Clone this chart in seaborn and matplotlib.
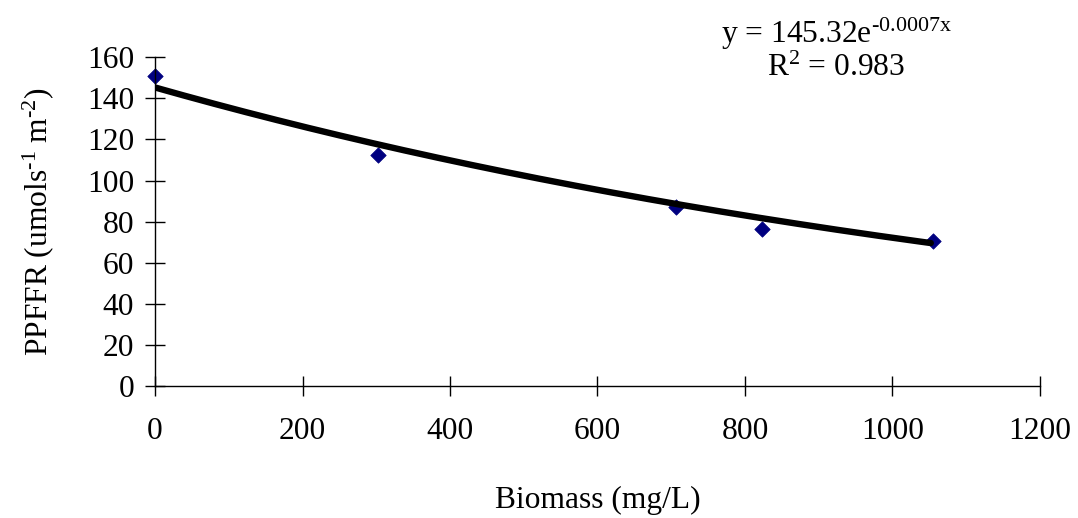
import numpy as np
import pandas as pd
import seaborn as sns
import matplotlib
matplotlib.use("Agg")
import matplotlib.pyplot as plt

# Measured biomass and PPFFR values
biomass = [0, 302, 707, 823, 1055]
ppffr = [151, 112.5, 87.2, 76.3, 70.6]

# Exponential trendline coefficients (y = a * exp(b * x))
fit_a = 145.32
fit_b = -0.0007
r_squared = 0.983

x_ticks = [0, 200, 400, 600, 800, 1000, 1200]
y_ticks = [0, 20, 40, 60, 80, 100, 120, 140, 160]

FS = 22.7
HY = "\u2010"  # plain hyphen inside superscripts

sns.set_theme(style="white")
plt.rcParams["font.family"] = ["Liberation Serif", "DejaVu Serif"]
plt.rcParams["mathtext.fontset"] = "custom"
plt.rcParams["mathtext.rm"] = "Liberation Serif"
plt.rcParams["mathtext.it"] = "Liberation Serif"
plt.rcParams["mathtext.default"] = "regular"
plt.rcParams["text.color"] = "black"
plt.rcParams["axes.labelcolor"] = "black"
plt.rcParams["xtick.color"] = "black"
plt.rcParams["ytick.color"] = "black"

points = pd.DataFrame({"Biomass": biomass, "PPFFR": ppffr})
curve_x = np.linspace(0, max(biomass) - 3, 300)
curve = pd.DataFrame({"Biomass": curve_x, "PPFFR": fit_a * np.exp(fit_b * curve_x)})

fig = plt.figure(figsize=(10.78, 5.18), dpi=100)
ax = fig.add_axes([0.1438, 0.2548, 0.8209, 0.6346])

sns.lineplot(data=curve, x="Biomass", y="PPFFR", ax=ax, color="black",
             linewidth=4.6, solid_capstyle="round", zorder=3)
sns.scatterplot(data=points, x="Biomass", y="PPFFR", ax=ax, marker="D",
                s=62, color="#000080", edgecolor="#000080", linewidth=0.5,
                zorder=2, clip_on=False)

ax.set_xlim(0, 1200)
ax.set_ylim(0, 160)
ax.set_xticks(x_ticks)
ax.set_yticks(y_ticks)
ax.tick_params(axis="both", which="major", direction="inout", length=14,
               width=1, labelsize=FS, bottom=True, left=True)
ax.tick_params(axis="x", pad=15)
ax.tick_params(axis="y", pad=8)

for side in ("top", "right"):
    ax.spines[side].set_visible(False)
for side in ("left", "bottom"):
    ax.spines[side].set_color("black")
    ax.spines[side].set_linewidth(1)

ax.set_xlabel("Biomass (mg/L)", fontsize=FS)
ax.set_ylabel(f"PPFFR (umols$^{{{HY}1}}$ m$^{{{HY}2}}$)", fontsize=FS)
ax.xaxis.set_label_coords(0.5, -0.305)
ax.yaxis.set_label_coords(-0.112, 0.5)

fig.text(0.7755, 0.934, f"y = 145.32e$^{{{HY}0.0007x}}$", fontsize=FS,
         ha="center", va="center")
fig.text(0.7755, 0.868, f"R$^{{2}}$ = {r_squared}", fontsize=FS,
         ha="center", va="center")

fig.savefig("out.png", dpi=100, facecolor="white")
